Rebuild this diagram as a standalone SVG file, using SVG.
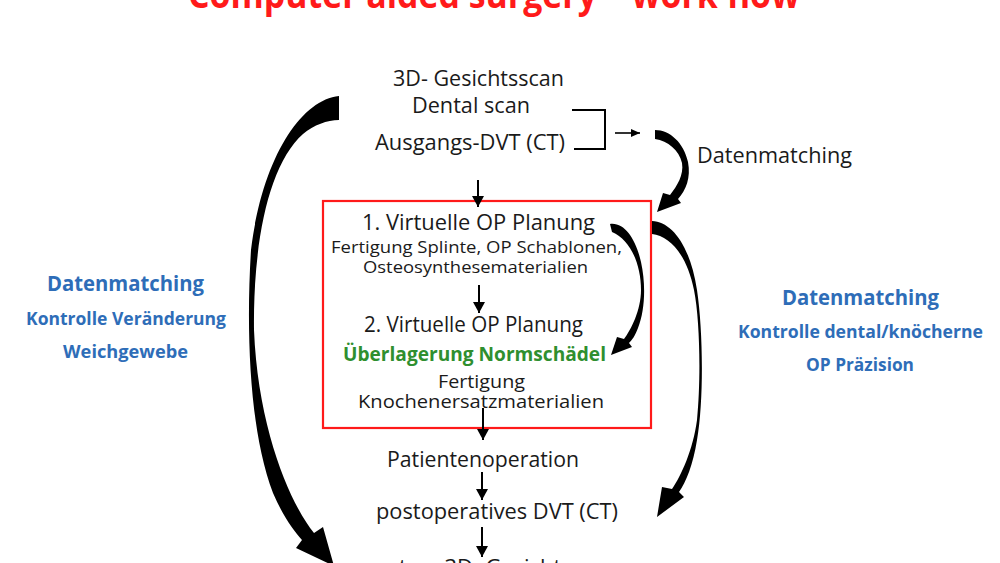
<svg xmlns="http://www.w3.org/2000/svg" width="1000" height="563" viewBox="0 0 1000 563">
<style>
  text { font-family: "Open Sans", "Liberation Sans", sans-serif; fill: #1a1a1a; }
  .l { font-size: 21px; }
  .m { font-size: 19px; }
  .s { font-size: 16px; }
  .blue { fill: #2e6db8; font-weight: bold; }
  .green { fill: #2f8f2f; font-weight: bold; font-size: 20px; }
  .title { fill: #ff1a1a; font-weight: bold; font-size: 38px; }
  .conn { stroke: #000; stroke-width: 2; fill: none; }
  .thin { stroke: #000; stroke-width: 1.6; fill: none; }
  .curve { fill: #000; stroke: none; }
</style>
<defs>
  <marker id="ah" markerUnits="userSpaceOnUse" markerWidth="12" markerHeight="12" refX="11" refY="6" orient="auto">
    <path d="M0,0 L11,6 L0,12 z" fill="#000"/>
  </marker>
  <marker id="ahs" markerUnits="userSpaceOnUse" markerWidth="10" markerHeight="10" refX="9" refY="4" orient="auto">
    <path d="M0,0 L9,4 L0,8 z" fill="#000"/>
  </marker>
</defs>
<rect width="1000" height="563" fill="#fff"/>

<g id="title">
  <text class="title" x="188" y="8" textLength="612" lengthAdjust="spacingAndGlyphs">Computer aided surgery – work flow</text>
</g>

<g id="n-input">
  <text class="l" x="393" y="86" textLength="171" lengthAdjust="spacingAndGlyphs">3D- Gesichtsscan</text>
  <text class="l" x="412" y="113" textLength="118" lengthAdjust="spacingAndGlyphs">Dental scan</text>
  <text class="l" x="375" y="150" textLength="190" lengthAdjust="spacingAndGlyphs">Ausgangs-DVT (CT)</text>
  <path class="conn" d="M572,110 H605 V149 H574"/>
</g>

<g id="n-datenmatching-top">
  <text class="l" x="697" y="163" textLength="155" lengthAdjust="spacingAndGlyphs">Datenmatching</text>
</g>

<g id="n-planning">
  <rect x="323" y="201" width="328" height="227" fill="none" stroke="#ff1a1a" stroke-width="2.2"/>
  <text class="l" x="362" y="230" textLength="233" lengthAdjust="spacingAndGlyphs">1. Virtuelle OP Planung</text>
  <text class="s" x="331" y="253" textLength="291" lengthAdjust="spacingAndGlyphs">Fertigung Splinte, OP Schablonen,</text>
  <text class="s" x="363" y="273" textLength="225" lengthAdjust="spacingAndGlyphs">Osteosynthesematerialien</text>
  <text class="l" x="364" y="332" textLength="219" lengthAdjust="spacingAndGlyphs">2. Virtuelle OP Planung</text>
  <text class="green" x="343" y="361" textLength="263" lengthAdjust="spacingAndGlyphs">Überlagerung Normschädel</text>
  <text class="m" x="438" y="388" textLength="87" lengthAdjust="spacingAndGlyphs">Fertigung</text>
  <text class="m" x="358" y="408" textLength="246" lengthAdjust="spacingAndGlyphs">Knochenersatzmaterialien</text>
</g>

<g id="n-operation">
  <text class="l" x="387" y="467" textLength="192" lengthAdjust="spacingAndGlyphs">Patientenoperation</text>
</g>

<g id="n-postop-dvt">
  <text class="l" x="376" y="519" textLength="242" lengthAdjust="spacingAndGlyphs">postoperatives DVT (CT)</text>
</g>

<g id="n-postop-scan">
  <text class="l" x="362" y="575" textLength="256" lengthAdjust="spacingAndGlyphs">postop. 3D- Gesichtsscan</text>
</g>

<g id="n-left-label">
  <text class="blue" font-size="21" x="47" y="291" textLength="157" lengthAdjust="spacingAndGlyphs">Datenmatching</text>
  <text class="blue" font-size="17" x="26" y="325" textLength="200" lengthAdjust="spacingAndGlyphs">Kontrolle Veränderung</text>
  <text class="blue" font-size="17" x="63" y="358" textLength="125" lengthAdjust="spacingAndGlyphs">Weichgewebe</text>
</g>

<g id="n-right-label">
  <text class="blue" font-size="21" x="782" y="305" textLength="157" lengthAdjust="spacingAndGlyphs">Datenmatching</text>
  <text class="blue" font-size="17" x="738" y="338" textLength="245" lengthAdjust="spacingAndGlyphs">Kontrolle dental/knöcherne</text>
  <text class="blue" font-size="17" x="806" y="371" textLength="108" lengthAdjust="spacingAndGlyphs">OP Präzision</text>
</g>

<g id="connectors">
  <line class="thin" x1="615" y1="133" x2="640" y2="133" marker-end="url(#ahs)"/>
  <line class="conn" x1="478" y1="180" x2="478" y2="207" marker-end="url(#ah)"/>
  <line class="conn" x1="479" y1="285" x2="479" y2="313" marker-end="url(#ah)"/>
  <line class="conn" x1="483" y1="408" x2="483" y2="440" marker-end="url(#ah)"/>
  <line class="conn" x1="482" y1="472" x2="482" y2="500" marker-end="url(#ah)"/>
  <line class="conn" x1="482" y1="527" x2="482" y2="557" marker-end="url(#ah)"/>
  <!-- top datenmatching curved arrow -->
  <path class="curve" d="M655,130 C670,130 684,143 688,162 C691,178 686,190 678,199 L681,203 L657,212 L663,193 L670,195 C677,186 684,175 682,163 C679,150 668,141 655,139 Z"/>
  <!-- inner planning curved arrow -->
  <path class="curve" d="M610,224 C625,222 636,240 641,262 C646,285 645,310 638,328 C635,336 632,340 629,343 L632,347 L611,355 L617,337 L624,339 C631,330 641,310 641,290 C641,265 631,240 612,232 Z"/>
  <!-- right big curved arrow -->
  <path class="curve" d="M652,221 C672,222 690,245 697,290 C703,330 704,400 697,440 C693,465 686,482 679,492 L684,497 L657,517 L662,487 L672,489 C681,476 693,450 697,420 C701,380 700,320 694,290 C687,255 670,236 652,234 Z"/>
  <!-- left big curved arrow -->
  <path class="curve" d="M339,96 C300,100 262,160 251,250 C246,330 249,430 273,493 C283,516 293,530 302,540 L296,548 L334,566 L323,527 L314,533 C291,505 258,430 254,330 C253,245 268,165 303,134 C314,125 327,120 339,120 Z"/>
</g>
</svg>
